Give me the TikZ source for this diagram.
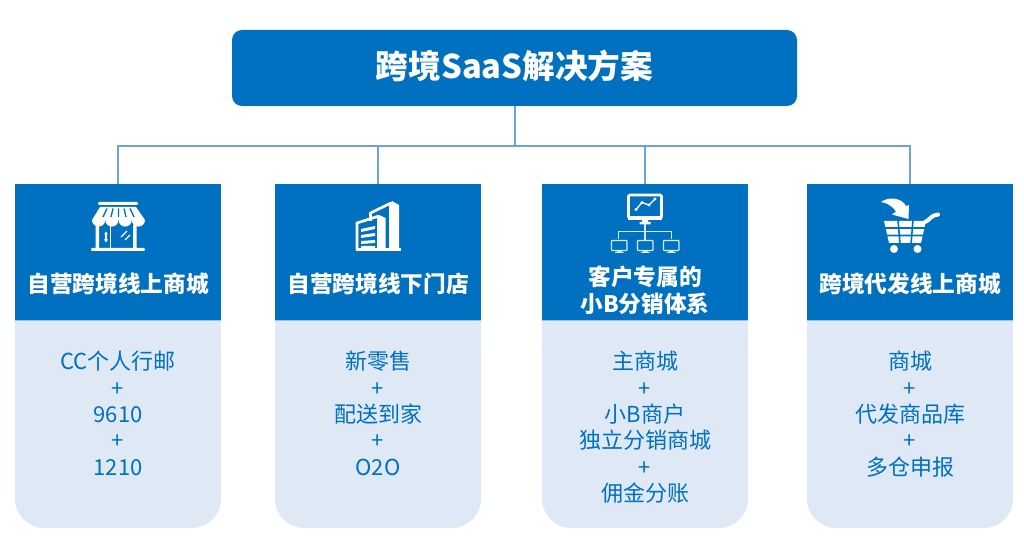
\documentclass[tikz,border=0pt]{standalone}
\usepackage{fontspec}
\setmainfont{Noto Sans CJK SC}
\definecolor{brand}{HTML}{0070C0}
\definecolor{pale}{HTML}{DEE9F5}
\definecolor{wire}{HTML}{6FA3D6}
\tikzset{
  titlebox/.style={fill=brand,rounded corners=7.5pt,minimum width=423.75pt,minimum height=57pt,inner sep=0pt,text=white,font=\fontsize{24.5pt}{28pt}\selectfont\bfseries},
  headbox/.style={fill=brand,minimum width=154.5pt,minimum height=102.75pt,inner sep=0pt},
  headtext/.style={text=white,align=center,inner sep=0pt,font=\fontsize{17pt}{20pt}\selectfont\bfseries},
  bodytext/.style={text=brand,align=center,inner sep=0pt,anchor=north,font=\fontsize{16.5pt}{19.75pt}\selectfont},
  link/.style={draw=wire,line width=1.5pt},
  ico/.style={draw=white,line width=2pt},
  icothin/.style={draw=white!85!brand,line width=0.9pt},
}
\newcommand{\cardbody}[1]{\fill[pale,rounded corners=22pt] (#1,321) -- (#1+206,321) -- (#1+206,528) -- (#1,528) -- cycle;\fill[pale] (#1,321) rectangle (#1+206,345);}
\begin{document}
\begin{tikzpicture}[x=0.75pt,y=-0.75pt]
\useasboundingbox (0,0) rectangle (1024,559);
\fill[white] (0,0) rectangle (1024,559);
\cardbody{15}\cardbody{275}\cardbody{542}\cardbody{807}
\node[titlebox] (top) at (514.5,68) {\raisebox{1.5pt}[\height][\depth]{跨境SaaS解决方案}};
\node[headbox] (h1) at (118,252.5) {};
\node[headbox] (h2) at (378,252.5) {};
\node[headbox] (h3) at (645,252.5) {};
\node[headbox] (h4) at (910,252.5) {};
\coordinate (bus) at (top.south |- 0,146);
\draw[link] (top.south) -- (bus);
\draw[link] (h1.north) -- (h1.north |- bus) -- (h4.north |- bus) -- (h4.north);
\draw[link] (h2.north) -- (h2.north |- bus);
\draw[link] (h3.north) -- (h3.north |- bus);
\draw[draw=wire!70,line width=0.75pt] (15,321) -- (221,321) (275,321) -- (481,321) (542,321) -- (748,321) (807,321) -- (1013,321);
\node[headtext] (t1) at (118,284) {自营跨境线上商城};
\node[headtext] (t2) at (378,284) {自营跨境线下门店};
\node[headtext] (t3) at (645,290.5) {客户专属的\\小B分销体系};
\node[headtext] (t4) at (910,284) {跨境代发线上商城};
\node[bodytext] (b1) at (118,351) {CC个人行邮\\+\\9610\\+\\1210};
\node[bodytext] (b2) at (378,351) {新零售\\+\\配送到家\\+\\O2O};
\node[bodytext] (b3) at (645,351) {主商城\\+\\小B商户\\独立分销商城\\+\\佣金分账};
\node[bodytext] (b4) at (910,351) {商城\\+\\代发商品库\\+\\多仓申报};
% shop
\fill[white,rounded corners=0.8pt] (98,202) rectangle (138,205);
\fill[white] (100,207) -- (136,207) -- (145,220) -- (92,220) -- cycle;
\foreach \x in {92,105.25,118.5,131.75}{\fill[white] (\x+13.25,220) arc[start angle=0,end angle=180,radius=6.625] -- cycle;}
\draw[brand,line width=1pt] (107,208.5) -- (103,217) (113,208.5) -- (111,217) (118.5,208.5) -- (118.5,217) (124,208.5) -- (126,217) (130,208.5) -- (134,217);
\fill[white] (95.5,225) rectangle (99,248) (133,225) rectangle (136.5,248);
\fill[white] (110,226) rectangle (111.2,248);
\fill[white,rounded corners=0.8pt] (91,248) rectangle (145,251);
\draw[white,line width=0.8pt] (106,233) -- (106,241);
\fill[white] (106,231.5) -- (108,234.5) -- (104,234.5) -- cycle (106,242.5) -- (108,239.5) -- (104,239.5) -- cycle;
\draw[white,line width=0.9pt] (121,237) -- (127,231) (125,240) -- (130,235);
% building
\fill[white] (356,248) rectangle (401,251);
\fill[white] (389,206) -- (392,201) -- (399,205) -- (399,250) -- (389,250) -- cycle;
\draw[ico] (370.5,221) -- (370.5,213) -- (391,203);
\fill[white] (377,218) -- (379,215) -- (385.5,218) -- (385.5,250) -- (377,250) -- cycle;
\draw[ico] (357,250) -- (357,223) -- (379,216);
\fill[white] (361,229) -- (375,226) -- (375,229) -- (361,232) -- cycle (361,235) -- (375,233) -- (375,236) -- (361,238) -- cycle (361,241) -- (375,240) -- (375,243) -- (361,244) -- cycle (361,246) -- (375,246) -- (375,249) -- (361,249) -- cycle;
% network
\draw[ico,rounded corners=1pt] (628.5,195) rectangle (661.5,218);
\fill[white] (628,216.5) rectangle (662,220);
\fill[white] (642,220) rectangle (648,222) (639.5,222) rectangle (650.5,224.5);
\draw[white,line width=1pt,line join=round] (636,209.5) -- (642,202.5) -- (649,205) -- (655,199);
\foreach \p in {(636,209.5),(642,202.5),(649,205),(655,199)}{\fill[white] \p circle[radius=1.6];}
\draw[icothin] (645,224) -- (645,240) (618.5,239) -- (618.5,231.5) -- (671.5,231.5) -- (671.5,239);
\foreach \x in {611.5,637.5,663.5}{
  \draw[icothin,rounded corners=0.6pt] (\x,240.5) rectangle (\x+15.5,250.5);
  \fill[white!85!brand] (\x+5.5,250.5) rectangle (\x+10,252) (\x+3.5,252) rectangle (\x+12,253);
}
% cart
\fill[white] (881,202) .. controls (889,196) and (902,198) .. (906,206) -- (909,205) -- (908.5,219) -- (892,214.5) -- (896,211.5) .. controls (893,207) and (888,203) .. (881,202) -- cycle;
\fill[white] (884,221) -- (926,221) -- (921,243) -- (889,243) -- cycle;
\draw[brand,line width=1.2pt] (883,228) -- (927,228) (883,235.5) -- (927,235.5) (898,220) -- (900,244) (913,220) -- (911,244);
\draw[white,line width=3pt,line cap=round] (925,222) .. controls (930,220) and (931,215) .. (938,214.5);
\fill[white] (894,249) circle[radius=4] (917.5,249) circle[radius=4];
\end{tikzpicture}
\end{document}
